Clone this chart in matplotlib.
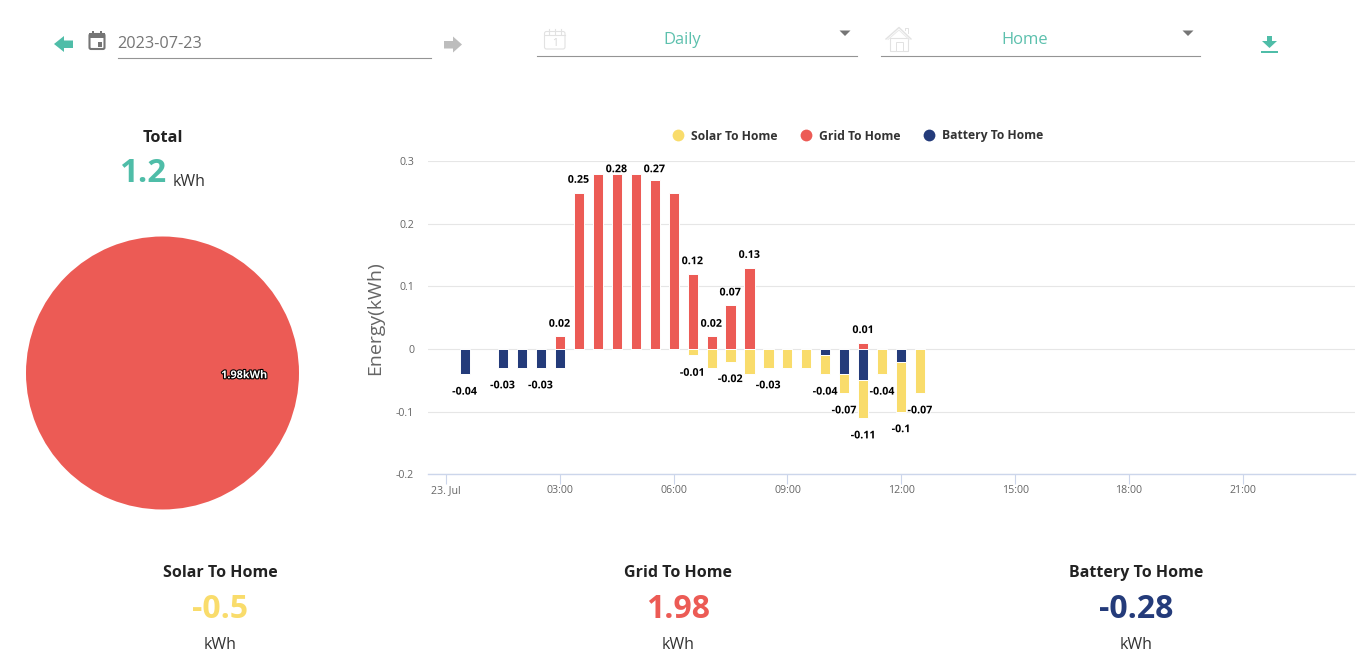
import matplotlib
matplotlib.use("Agg")
import matplotlib.pyplot as plt
import matplotlib.patheffects as pe
from matplotlib.lines import Line2D
from matplotlib.patches import Polygon, Rectangle, FancyBboxPatch
import numpy as np

plt.rcParams['font.family'] = ['Open Sans', 'DejaVu Sans']

W, H = 1360, 661
TEAL, RED, YEL, NAVY = '#4fbda8', '#ec5b55', '#f9dc6b', '#243b7a'

hours = [0.5, 1.5, 2, 2.5, 3, 3.5, 4, 4.5, 5, 5.5, 6, 6.5, 7, 7.5, 8, 8.5, 9, 9.5,
         10, 10.5, 11, 11.5, 12, 12.5]
solar = [0, 0, 0, 0, 0, 0, 0, 0, 0, 0, 0, -0.01, -0.03, -0.02, -0.04, -0.03, -0.03, -0.03,
         -0.03, -0.03, -0.06, -0.04, -0.08, -0.07]
grid = [0, 0, 0, 0, 0.02, 0.25, 0.28, 0.28, 0.28, 0.27, 0.25, 0.12, 0.02, 0.07, 0.13, 0, 0, 0,
        0, 0, 0.01, 0, 0, 0]
battery = [-0.04, -0.03, -0.03, -0.03, -0.03, 0, 0, 0, 0, 0, 0, 0, 0, 0, 0, 0, 0, 0,
           -0.01, -0.04, -0.05, 0, -0.02, 0]
pos_label_hours = [3, 3.5, 4.5, 5.5, 6.5, 7, 7.5, 8, 11]
neg_label_hours = [0.5, 1.5, 2.5, 6.5, 7.5, 8.5, 10, 10.5, 11, 11.5, 12, 12.5]
xtick_hours = [0, 3, 6, 9, 12, 15, 18, 21]
xtick_labels = ['23. Jul', '03:00', '06:00', '09:00', '12:00', '15:00', '18:00', '21:00']
ytick_values = [-0.2, -0.1, 0, 0.1, 0.2, 0.3]
ytick_labels = ['-0.2', '-0.1', '0', '0.1', '0.2', '0.3']
series_names = ['Solar To Home', 'Grid To Home', 'Battery To Home']
series_totals = ['-0.5', '1.98', '-0.28']
pie_values = [1.98]
pie_labels = ['1.98kWh']

fig = plt.figure(figsize=(W / 100, H / 100), dpi=100, facecolor='white')


def px_axes(l, t, r, b):
    return fig.add_axes([l / W, 1 - b / H, (r - l) / W, (b - t) / H])


# ---------- page furniture, in pixel coordinates ----------
ui = fig.add_axes([0, 0, 1, 1])
ui.set_xlim(0, W)
ui.set_ylim(H, 0)
ui.axis('off')

def t(x, y, s, size, color='#333333', weight='normal', ha='center', **kw):
    ui.text(x, y + 4, s, fontsize=size * 0.72, color=color, fontweight=weight, ha=ha,
            va='center', **kw)

# arrows
ui.add_patch(Polygon([(54, 44), (64, 36), (64, 40.5), (73, 40.5), (73, 48), (64, 48), (64, 52)],
                     color=TEAL, lw=0))
ui.add_patch(Polygon([(462, 44.5), (453, 36.5), (453, 41), (444, 41), (444, 48.5), (453, 48.5),
                      (453, 52.5)], color='#bdbdbd', lw=0))
# date field
ui.add_patch(FancyBboxPatch((89.5, 34), 15, 15, boxstyle='round,pad=0,rounding_size=1.5',
                            fc='white', ec='#757575', lw=1.5))
ui.add_patch(Rectangle((89, 33), 16, 5, color='#757575', lw=0))
ui.add_patch(Rectangle((92, 31), 2, 3, color='#757575', lw=0))
ui.add_patch(Rectangle((100, 31), 2, 3, color='#757575', lw=0))
ui.add_patch(Rectangle((97.5, 42), 4.5, 4.5, color='#757575', lw=0))
t(117.5, 40, '2023-07-23', 16.2, '#757575', ha='left')
ui.plot([118, 431], [58, 58], color='#949494', lw=0.8)

# selectors
for x0, x1, label, lx, tx in [(537, 857, 'Daily', 682, 845), (881, 1200, 'Home', 1025, 1188)]:
    ui.plot([x0, x1], [56, 56], color='#949494', lw=0.8)
    t(lx, 36, label, 16.5, '#5cc0ad')
    ui.add_patch(Polygon([(tx - 5.5, 30.5), (tx + 5.5, 30.5), (tx, 36)], color='#757575', lw=0))

# calendar icon
ui.add_patch(FancyBboxPatch((544.5, 31.5), 20.5, 17.5, boxstyle='round,pad=0,rounding_size=2',
                            fc='white', ec='#e2e2e2', lw=0.8))
ui.plot([545, 565], [34.5, 34.5], color='#e2e2e2', lw=0.8)
for x in (549, 555, 561):
    ui.plot([x, x], [29, 34], color='#e2e2e2', lw=0.8)
t(554.5, 39, '1', 10, '#d5d5d5')

# house icon
ui.add_patch(Polygon([(890, 38), (890, 50.5), (908, 50.5), (908, 38)], fc='white', ec='#e2e2e2', lw=0.8))
ui.plot([886, 899, 911], [39, 27.5, 39], color='#e2e2e2', lw=1)
ui.plot([888, 899, 909], [39.5, 30, 39.5], color='#e8e8e8', lw=0.7)
ui.plot([905, 905, 908, 908], [30, 28, 28, 33], color='#e2e2e2', lw=0.7)
ui.add_patch(Rectangle((896, 42), 6.5, 8.5, fc='white', ec='#e2e2e2', lw=0.7))

# download icon
ui.add_patch(Polygon([(1267, 36), (1272, 36), (1272, 41), (1277, 41), (1269.5, 48), (1262, 41),
                      (1267, 41)], color=TEAL, lw=0))
ui.add_patch(Rectangle((1261, 50.5), 17, 2.5, color=TEAL, lw=0))

# total block
t(163, 134, 'Total', 16.2, '#222222', 'bold')
t(143, 170, '1.2', 33, TEAL, 'bold')
t(189.5, 178, 'kWh', 16, '#333333')

# bottom summary
for x, name, total, col in zip([220, 678, 1136], series_names, series_totals, [YEL, RED, NAVY]):
    t(x, 569, name, 16, '#222222', 'bold')
    t(x, 605, total, 32, col, 'bold')
    t(x, 641, 'kWh', 16, '#333333')

# ---------- pie ----------
pa = px_axes(26, 236.5, 299, 509.5)
pa.pie(pie_values, colors=[RED], radius=1, startangle=90)
pa.set_xlim(-1, 1)
pa.set_ylim(-1, 1)
pa.set_aspect('equal')
pa.text(0.6, -0.02, pie_labels[0], fontsize=7.8, fontweight='bold', color='white', ha='center',
        va='center', path_effects=[pe.withStroke(linewidth=1.6, foreground='black')])

# ---------- bars ----------
ax = px_axes(428, 161.2, 1355, 474.2)
ax.patch.set_alpha(0)
PX_PER_H = 37.95
ax.set_xlim((428 - 445.9) / PX_PER_H, (1355 - 445.9) / PX_PER_H)
ax.set_ylim(-0.2, 0.3)

hrs = np.array(hours)
sol, gr, bat = np.array(solar), np.array(grid), np.array(battery)
BW = 0.265
kw = dict(width=BW, edgecolor='white', linewidth=0.7, zorder=3)
ax.bar(hrs, gr, color=RED, **kw)
ax.bar(hrs, bat, color=NAVY, **kw)
ax.bar(hrs, sol, bottom=bat, color=YEL, **kw)

ax.set_yticks(ytick_values, ytick_labels)
ax.set_xticks(xtick_hours, xtick_labels)
ax.grid(axis='y', color='#e6e6e6', lw=0.8, zorder=0)
ax.set_axisbelow(True)
for s in ('top', 'right', 'left'):
    ax.spines[s].set_visible(False)
ax.spines['bottom'].set_color('#ccd6eb')
ax.spines['bottom'].set_linewidth(1)
ax.tick_params(axis='x', length=7, width=0.8, color='#ccd6eb', labelsize=7.7, labelcolor='#666666', pad=0.8)
ax.tick_params(axis='y', length=0, labelsize=7.7, labelcolor='#666666', pad=10)
ax.set_ylabel('Energy(kWh)', fontsize=14, color='#666666', va='center')
ax.yaxis.set_label_coords((375 - 428) / 927, (474.5 - 318) / 313)

outline = [pe.withStroke(linewidth=1.6, foreground='white')]
lab = dict(fontsize=7.7, fontweight='bold', color='black', ha='center', va='center',
           textcoords='offset points', path_effects=outline, zorder=5)
POS_PT = 8.8                      # label gap above a bar, points
TOP_CLAMP = 0.3 - 8.5 / 626.0     # labels stay inside the plot area
for h in pos_label_hours:
    i = hours.index(h)
    y_lab = min(gr[i] + POS_PT / 0.72 / 626.0, TOP_CLAMP)
    ax.annotate(f'{gr[i]:g}', (h, y_lab), xytext=(-0.2, 0), **lab)
for h in neg_label_hours:
    i = hours.index(h)
    v = round(float(sol[i] + bat[i]), 2)
    ax.annotate(f'{v:g}', (h, v), xytext=(-0.2, -13), **lab)

handles = [Line2D([], [], marker='o', ls='none', ms=8.5, color=c, mew=0) for c in (YEL, RED, NAVY)]
ax.legend(handles, series_names, loc='center', bbox_to_anchor=((854.5 - 428) / 927, 1 + 25.2 / 313),
          ncols=3, frameon=False, columnspacing=1.33, handletextpad=0.1, borderpad=0,
          prop={'size': 8.7, 'weight': 'bold'}, labelcolor='#333333')

fig.savefig('out.png', dpi=100, facecolor='white')
